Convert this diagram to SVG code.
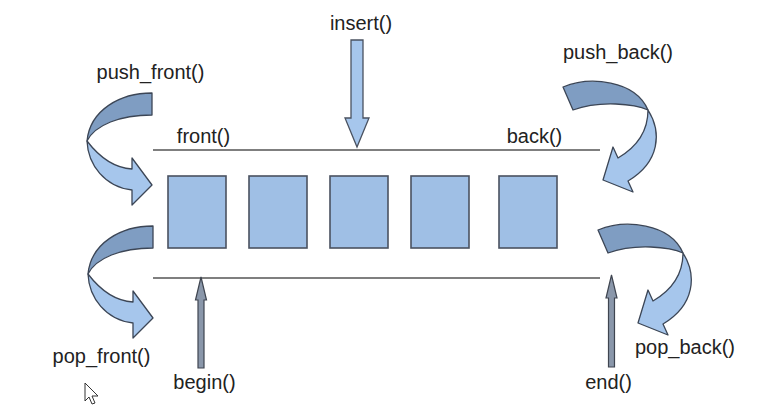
<svg xmlns="http://www.w3.org/2000/svg" width="775" height="406" viewBox="0 0 775 406">
<style>
text{font-family:"Liberation Sans",Arial,sans-serif;font-size:20px;fill:#222;text-anchor:middle}
.box{fill:#9fbfe5;stroke:#4a5260;stroke-width:1.6}
.rail{stroke:#555;stroke-width:1.6;fill:none}
.dark{fill:#7f9dc2;stroke:#3c4656;stroke-width:1.3;stroke-linejoin:round}
.light{fill:#a6c6ec;stroke:#3c4656;stroke-width:1.3;stroke-linejoin:round}
.ins{fill:#a6c6ec;stroke:#4a5260;stroke-width:1.3}
.ptr{fill:#8a97aa;stroke:#3f4550;stroke-width:1.2}
</style>
<defs>
<g id="curveLeft">
<path class="dark" d="M152,93 C120,93 90,110 87,141 C95,125 120,115 152,115 Z"/>
<path class="light" d="M87,141 C88,165 105,187 132,190 L132,205 L152,185 L132,158 L132,169 C115,168 100,158 87,141 Z"/>
</g>
<g id="curveRight">
<path class="dark" d="M563,87 C590,76 635,80 648,110 C635,104 600,100 573,110 Z"/>
<path class="light" d="M648,110 C662,132 660,162 628,181 L633,192 L603,180 L613,147 L618,158 C635,148 648,132 648,110 Z"/>
</g>
</defs>
<rect width="775" height="406" fill="#fff"/>
<g id="rails">
<line class="rail" x1="153" y1="150" x2="600" y2="150"/>
<line class="rail" x1="153" y1="278" x2="600" y2="278"/>
</g>
<g id="elements">
<rect class="box" x="168" y="176" width="58" height="72"/>
<rect class="box" x="249" y="176" width="58" height="72"/>
<rect class="box" x="330" y="176" width="58" height="72"/>
<rect class="box" x="411" y="176" width="58" height="72"/>
<rect class="box" x="499" y="176" width="58" height="72"/>
</g>
<g id="connectors">
<g id="push_front_arrow"><use href="#curveLeft"/></g>
<g id="pop_front_arrow"><use href="#curveLeft" transform="translate(1,133)"/></g>
<g id="push_back_arrow"><use href="#curveRight"/></g>
<g id="pop_back_arrow"><use href="#curveRight" transform="translate(35,143)"/></g>
<polygon id="insert_arrow" class="ins" points="351,40 363,40 363,118 369,118 357,147 345,118 351,118"/>
<polygon id="begin_arrow" class="ptr" points="198,368 204,368 204,300 206.5,300 201,277 195.5,300 198,300"/>
<polygon id="end_arrow" class="ptr" points="608.5,367 614.5,367 614.5,298 617,298 611.5,275 606,298 608.5,298"/>
</g>
<g id="labels">
<text x="150.5" y="79">push_front()</text>
<text x="203.5" y="143">front()</text>
<text x="534.5" y="143">back()</text>
<text x="618" y="59">push_back()</text>
<text x="361" y="30">insert()</text>
<text x="101.5" y="363">pop_front()</text>
<text x="204.5" y="389">begin()</text>
<text x="608.5" y="389">end()</text>
<text x="685" y="354">pop_back()</text>
</g>
<path d="M85,383 L85,401 L89,397 L92,404 L95,403 L92,396 L98,396 Z" fill="#fff" stroke="#333" stroke-width="1"/>
</svg>
